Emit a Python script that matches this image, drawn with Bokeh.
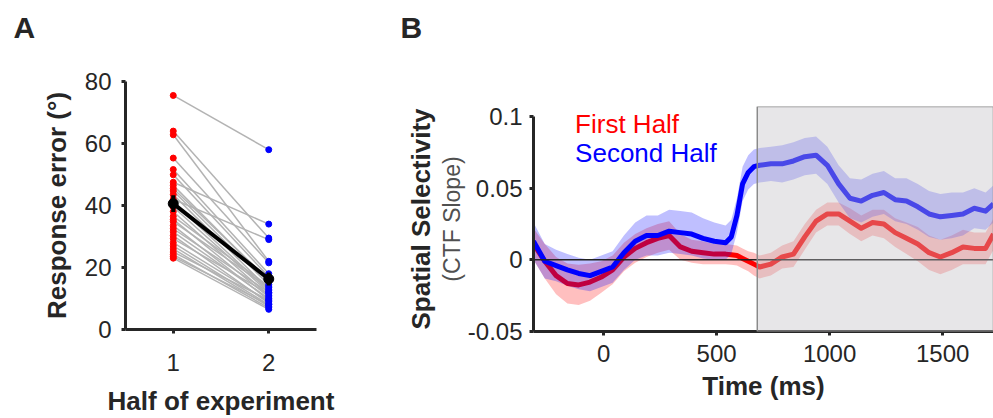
import math
from bokeh.plotting import figure
from bokeh.layouts import row, column
from bokeh.models import Range1d, FixedTicker, Label, Span, BoxAnnotation, Title
from bokeh.embed import file_html
from bokeh.resources import INLINE

# ---------------- data: panel A ----------------
half_ticks = [1, 2]
first_half_err = [75.5, 64.0, 62.8, 55.3, 51.6, 49.9, 47.5, 46.5, 45.5, 44.7,
                  43.5, 42.0, 41.0, 39.5, 38.0, 36.5, 35.5, 34.8, 33.5, 32.5,
                  31.5, 30.3, 29.3, 28.0, 27.0, 26.0, 25.0, 24.2, 23.5, 23.0]
second_half_err = [58.0, 29.5, 22.0, 21.5, 18.0, 17.0, 34.0, 15.5, 16.0, 14.5,
                   13.0, 29.0, 12.5, 12.0, 11.0, 14.0, 10.5, 13.5, 9.5, 12.0,
                   10.0, 8.5, 11.5, 9.0, 8.0, 7.5, 9.5, 7.0, 8.0, 6.5]
mean_err = [40.6, 16.3]
sem_err = [2.7, 2.1]
a_yticks = [0, 20, 40, 60, 80]

# ---------------- data: panel B ----------------
time_ms = [-310, -260, -210, -160, -110, -60, -10, 40, 90, 140,
           190, 240, 290, 340, 390, 440, 490, 540, 565, 590,
           615, 640, 665, 690, 740, 790, 840, 890, 940, 990,
           1040, 1090, 1140, 1190, 1240, 1290, 1340, 1390, 1440, 1490,
           1540, 1590, 1640, 1690, 1725]
sel_first = [0.011, -0.001, -0.011, -0.0165, -0.0175, -0.0155, -0.012, -0.007, 0.002, 0.008,
             0.012, 0.015, 0.017, 0.009, 0.006, 0.005, 0.004, 0.004, 0.0035, 0.003,
             0.001, -0.001, -0.003, -0.005, -0.003, 0.002, 0.004, 0.016, 0.027, 0.032,
             0.032, 0.027, 0.022, 0.026, 0.025, 0.019, 0.015, 0.011, 0.005, 0.002,
             0.005, 0.009, 0.008, 0.008, 0.018]
sem_first = [0.011, 0.012, 0.013, 0.014, 0.014, 0.013, 0.011, 0.010, 0.010, 0.010,
             0.010, 0.010, 0.010, 0.009, 0.008, 0.008, 0.007, 0.007, 0.007, 0.007,
             0.007, 0.007, 0.008, 0.008, 0.008, 0.008, 0.009, 0.009, 0.008, 0.008,
             0.008, 0.009, 0.009, 0.009, 0.010, 0.010, 0.011, 0.012, 0.012, 0.012,
             0.012, 0.012, 0.011, 0.011, 0.011]
sel_second = [0.013, -0.001, -0.004, -0.007, -0.0095, -0.011, -0.008, -0.005, 0.005, 0.013,
              0.017, 0.017, 0.020, 0.019, 0.018, 0.015, 0.013, 0.012, 0.016, 0.031,
              0.053, 0.061, 0.065, 0.066, 0.067, 0.067, 0.069, 0.072, 0.073, 0.066,
              0.053, 0.043, 0.041, 0.045, 0.047, 0.042, 0.041, 0.037, 0.032, 0.030,
              0.031, 0.032, 0.036, 0.034, 0.039]
sem_second = [0.013, 0.012, 0.011, 0.011, 0.011, 0.011, 0.011, 0.011, 0.012, 0.013,
              0.014, 0.014, 0.015, 0.015, 0.015, 0.014, 0.013, 0.012, 0.012, 0.012,
              0.012, 0.012, 0.012, 0.012, 0.012, 0.013, 0.013, 0.013, 0.013, 0.013,
              0.013, 0.014, 0.015, 0.015, 0.015, 0.015, 0.016, 0.016, 0.016, 0.016,
              0.016, 0.015, 0.014, 0.013, 0.013]
stim_onset = 680
b_xticks = [0, 500, 1000, 1500]
b_yticks = [-0.05, 0, 0.05, 0.1]
b_ytick_labels = {-0.05: "-0.05", 0: "0", 0.05: "0.05", 0.1: "0.1"}
panel_letters = ["A", "B"]
legend_names = ["First Half", "Second Half"]

FONT = "Liberation Sans"
INK = "#262626"
RED = "#ff0000"
BLUE = "#0000ff"
HEADER_H = 50


def style_axes(p):
    for ax in p.axis:
        ax.axis_line_width = 3
        ax.axis_line_color = INK
        ax.major_tick_line_width = 3
        ax.major_tick_line_color = INK
        ax.major_tick_out = 4
        ax.major_tick_in = 0
        ax.minor_tick_line_color = None
        ax.major_label_text_font = FONT
        ax.major_label_text_font_size = "24px"
        ax.major_label_text_color = INK
        ax.axis_label_text_font = FONT
        ax.axis_label_text_font_size = "26px"
        ax.axis_label_text_font_style = "bold"
        ax.axis_label_text_color = INK
    p.grid.visible = False
    p.outline_line_color = None
    p.background_fill_color = "white"
    p.border_fill_color = "white"


# ---------------- header strip with panel letters ----------------
header = figure(width=993, height=HEADER_H, x_range=Range1d(0, 993), y_range=Range1d(0, HEADER_H),
                output_backend="svg", toolbar_location=None,
                x_axis_location=None, y_axis_location=None,
                min_border_left=0, min_border_right=0, min_border_top=0, min_border_bottom=0)
header.grid.visible = False
header.outline_line_color = None
for letter, lx in zip(panel_letters, [13, 400]):
    header.add_layout(Label(x=lx, y=HEADER_H - 27, text=letter, text_font=FONT,
                            text_font_size="30px", text_font_style="bold", text_color=INK,
                            text_align="left", text_baseline="alphabetic"))

# ---------------- panel A ----------------
pA = figure(width=380, height=418 - HEADER_H, x_range=Range1d(0.5, 2.5), y_range=Range1d(0, 80),
            output_backend="svg", toolbar_location=None, frame_align=False,
            min_border_left=125, min_border_right=64, min_border_top=81 - HEADER_H,
            min_border_bottom=85)
style_axes(pA)
pA.xaxis.ticker = FixedTicker(ticks=half_ticks)
pA.yaxis.ticker = FixedTicker(ticks=a_yticks)
pA.xaxis.axis_label = "Half of experiment"
pA.yaxis.axis_label = "Response error (°)"
pA.xaxis.major_label_standoff = 20
pA.yaxis.major_label_standoff = 10
pA.xaxis.axis_label_standoff = 12
pA.yaxis.axis_label_standoff = 10

n = len(first_half_err)
pA.multi_line(xs=[half_ticks for _ in range(n)],
              ys=[[a, b] for a, b in zip(first_half_err, second_half_err)],
              line_color="#b3b3b3", line_width=1.5)
pA.scatter(x=[half_ticks[0]] * n, y=first_half_err, size=6, color=RED)
pA.scatter(x=[half_ticks[1]] * n, y=second_half_err, size=6, color=BLUE)
pA.line(half_ticks, mean_err, line_color="black", line_width=4)
pA.segment(x0=half_ticks, x1=half_ticks,
           y0=[m - s for m, s in zip(mean_err, sem_err)],
           y1=[m + s for m, s in zip(mean_err, sem_err)],
           line_color="black", line_width=4)
pA.scatter(x=half_ticks, y=mean_err, size=10, color="black")

# ---------------- panel B ----------------
pB = figure(width=613, height=418 - HEADER_H, x_range=Range1d(-310, 1725), y_range=Range1d(-0.05, 0.107),
            output_backend="svg", toolbar_location=None, frame_align=False,
            min_border_left=153, min_border_right=0, min_border_top=106 - HEADER_H,
            min_border_bottom=87)
style_axes(pB)
pB.xaxis.ticker = FixedTicker(ticks=b_xticks)
pB.yaxis.ticker = FixedTicker(ticks=b_yticks)
pB.yaxis.major_label_overrides = b_ytick_labels
pB.yaxis.bounds = (b_yticks[0], b_yticks[-1])
pB.xaxis.axis_label = "Time (ms)"
pB.yaxis.axis_label = "(CTF Slope)"
pB.yaxis.axis_label_text_font_style = "normal"
pB.yaxis.axis_label_text_font_size = "23px"
pB.yaxis.axis_label_text_color = "#505050"
pB.xaxis.major_label_standoff = 9
pB.yaxis.major_label_standoff = 7
pB.xaxis.axis_label_standoff = 6
pB.yaxis.axis_label_standoff = 0
pB.add_layout(Title(text="Spatial Selectivity", align="center", standoff=0,
                    text_font=FONT, text_font_size="26px", text_font_style="bold",
                    text_color=INK), "left")

pB.varea(x=time_ms, y1=[m - s for m, s in zip(sel_first, sem_first)],
         y2=[m + s for m, s in zip(sel_first, sem_first)], fill_color=RED, fill_alpha=0.25)
pB.line(time_ms, sel_first, line_color=RED, line_width=5, line_join="round")
pB.varea(x=time_ms, y1=[m - s for m, s in zip(sel_second, sem_second)],
         y2=[m + s for m, s in zip(sel_second, sem_second)], fill_color=BLUE, fill_alpha=0.25)
pB.line(time_ms, sel_second, line_color=BLUE, line_width=5, line_join="round")

pB.add_layout(Span(location=0, dimension="width", line_color="#222222", line_width=1.5))
pB.add_layout(BoxAnnotation(left=stim_onset, bottom=-0.05, fill_color="#c0bec2", fill_alpha=0.38,
                            line_color="#8a8a8a", line_width=1.5, line_alpha=1.0))

for name, col, ly in zip(legend_names, [RED, BLUE], [0.0948, 0.0746]):
    pB.add_layout(Label(x=-126, y=ly, text=name, text_font=FONT, text_font_size="26px",
                        text_color=col, text_align="left", text_baseline="alphabetic"))

layout = column(header, row(pA, pB))
open("out.html", "w").write(file_html(layout, INLINE))
